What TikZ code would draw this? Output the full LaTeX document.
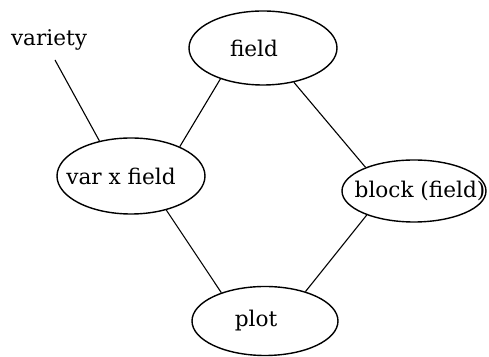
\documentclass[tikz,border=0pt]{standalone}
\usepackage{fontspec}
\setmainfont{DejaVu Serif}
\usetikzlibrary{shapes.geometric}
\newcommand{\zw}[2]{\makebox[0pt]{\hspace*{#1}#2}}
\begin{document}
\begin{tikzpicture}[x=0.5pt,y=-0.5pt,
  ell/.style={ellipse,draw,line width=0.7pt,inner sep=0pt,font=\fontsize{10.8}{12}\selectfont},
  lbl/.style={inner sep=0pt,font=\fontsize{10.8}{12}\selectfont},
  conn/.style={line width=0.55pt}]
\useasboundingbox (0,0) rectangle (489,357);
\node[ell,minimum width=74pt,minimum height=37pt] (field) at (263,48) {\zw{-9pt}{field}};
\node[ell,minimum width=74pt,minimum height=38pt] (var) at (131,176) {\zw{-10pt}{var x field}};
\node[ell,minimum width=72pt,minimum height=31pt] (block) at (414,191) {\zw{6pt}{block (field)}};
\node[ell,minimum width=73pt,minimum height=34.5pt] (plot) at (265,321) {\zw{-9pt}{plot}};
\node[lbl] (variety) at (49,40) {variety};
\coordinate (vt) at (55,60);
\draw[conn] (vt) -- (var.132);
\draw[conn] (field.216) -- (var.31);
\draw[conn] (field.312) -- (block.154);
\draw[conn] (var.316) -- (plot.147);
\draw[conn] (block.207) -- (plot.36);
\end{tikzpicture}
\end{document}
